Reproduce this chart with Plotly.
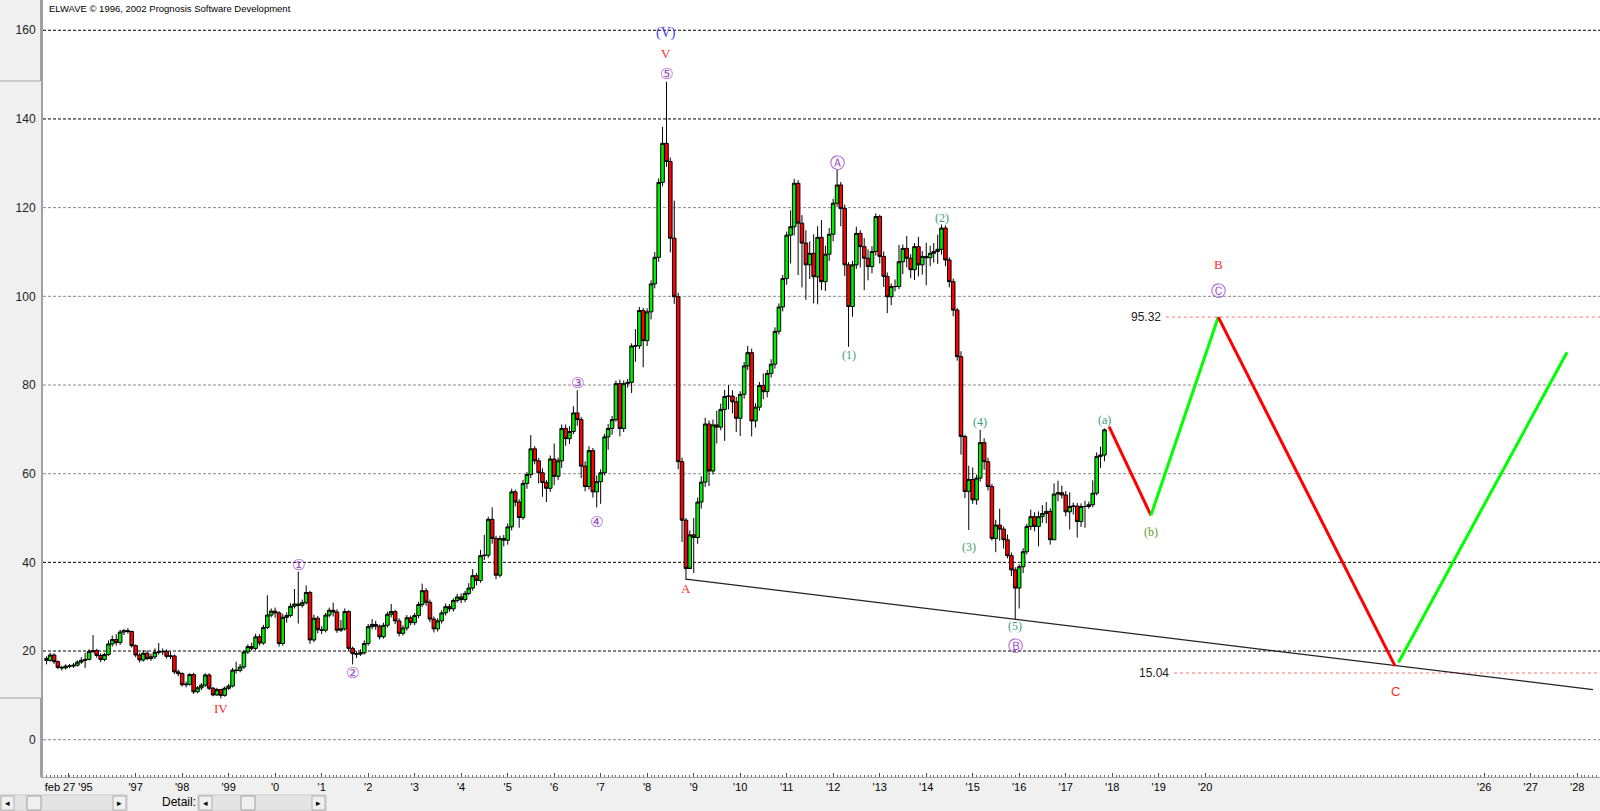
import numpy as np
import pandas as pd
import plotly.graph_objects as go

# ---------------- data (monthly candles, Feb 1995 - Nov 2017) ----------------
start_month = "1995-02-01"
first_open = 18.3

close_rows = [
    [17.9, 19.1, 17.6, 16.3, 16.2, 16.6, 16.6, 16.8, 17.5, 17.9, 18.1],
    [19.9, 20.1, 19.0, 18.1, 19.2, 21.6, 22.6, 21.9, 24.3, 24.6, 24.4, 21.2],
    [19.1, 18.0, 19.5, 18.3, 18.7, 19.7, 19.8, 19.9, 18.8, 18.9, 15.3, 14.9],
    [12.4, 12.5, 14.7, 10.8, 11.7, 12.3, 14.6, 11.6, 10.1, 11.3, 10.0, 11.6],
    [12.1, 15.7, 15.6, 16.4, 19.8, 21.0, 20.6, 23.2, 21.8, 25.3, 28.1, 29.0],
    [28.6, 21.7, 27.6, 28.0, 30.1, 30.6, 30.3, 30.9, 33.2, 22.5, 27.4, 24.8],
    [24.7, 28.1, 29.2, 28.8, 24.7, 25.0, 28.9, 20.6, 19.4, 19.3, 19.6, 21.7],
    [25.5, 26.0, 25.6, 23.2, 25.8, 28.3, 28.9, 26.8, 24.0, 25.2, 27.5, 26.4],
    [28.0, 30.5, 33.6, 31.0, 27.2, 25.0, 26.8, 28.6, 30.0, 29.5, 31.4, 32.2],
    [31.6, 33.0, 34.2, 37.0, 35.9, 41.5, 41.6, 49.7, 45.4, 37.1, 45.4, 45.0],
    [48.0, 55.9, 53.6, 50.1, 57.8, 59.8, 65.6, 62.9, 60.2, 58.0, 56.7, 63.3],
    [59.4, 62.9, 70.2, 67.9, 69.5, 73.7, 72.2, 61.7, 57.1, 65.2, 55.9, 58.2],
    [60.2, 68.3, 70.2, 72.2, 80.3, 70.2, 80.3, 80.6, 88.8, 88.8, 96.8, 90.0],
    [96.5, 102.8, 108.8, 125.7, 134.5, 130.4, 113.1, 99.9, 62.7, 49.5, 38.6, 46.2],
    [45.6, 53.6, 58.1, 71.2, 60.6, 71.0, 70.5, 74.5, 77.4, 77.5, 76.2, 72.5],
    [77.9, 84.3, 87.3, 71.9, 75.0, 79.9, 78.5, 82.6, 84.7, 92.1, 97.6, 104.0],
    [113.8, 115.7, 125.5, 116.5, 112.0, 107.1, 109.7, 104.4, 113.3, 103.3, 109.5, 114.0],
    [121.0, 125.1, 119.8, 107.1, 97.7, 107.1, 114.2, 111.2, 108.6, 106.7, 110.1, 118.0],
    [109.0, 104.5, 99.9, 102.2, 102.2, 107.8, 110.8, 108.6, 106.0, 111.2, 107.1, 109.0],
    [108.7, 109.7, 110.1, 110.6, 115.4, 108.2, 103.3, 96.9, 86.4, 68.4, 56.0, 58.7],
    [54.1, 59.0, 67.0, 62.7, 57.1, 45.4, 48.4, 47.5, 45.1, 41.5, 38.3, 34.2],
    [39.0, 42.4, 48.1, 50.3, 48.1, 50.3, 51.0, 51.5, 45.1, 55.4, 55.7, 55.2],
    [51.4, 52.6, 52.7, 49.2, 52.6, 52.6, 53.0, 55.6, 63.9, 64.2, 69.9],
]
high_rows = [
    [18.8, 19.6, 19.5, 17.9, 16.7, 17.0, 17.1, 17.3, 17.9, 18.6, 19.6],
    [20.4, 23.6, 20.5, 19.5, 19.6, 22.4, 23.5, 23.8, 24.8, 25.0, 25.2, 24.6],
    [21.5, 19.6, 20.2, 20.1, 19.4, 20.6, 21.8, 20.6, 20.4, 19.9, 19.2, 15.8],
    [15.2, 13.1, 15.0, 15.1, 12.1, 12.8, 15.0, 15.0, 11.9, 11.7, 11.5, 12.0],
    [12.6, 16.2, 17.6, 17.1, 20.2, 21.5, 21.9, 23.9, 23.8, 25.9, 32.6, 29.6],
    [29.8, 29.0, 28.4, 28.7, 30.8, 34.0, 37.9, 31.6, 34.8, 33.6, 28.2, 27.9],
    [25.6, 28.6, 29.8, 30.9, 29.4, 27.0, 29.6, 29.2, 21.0, 20.0, 20.4, 22.4],
    [26.1, 27.2, 26.8, 26.0, 26.4, 28.9, 30.6, 29.3, 27.4, 25.8, 28.1, 28.0],
    [28.6, 31.1, 35.2, 34.2, 31.6, 27.8, 27.4, 29.2, 30.7, 30.6, 31.9, 32.9],
    [33.0, 33.6, 35.3, 38.5, 37.6, 42.8, 46.2, 50.3, 52.4, 46.0, 46.0, 46.2],
    [48.8, 56.6, 56.4, 54.2, 58.6, 60.4, 68.7, 66.2, 63.5, 61.2, 58.6, 64.1],
    [66.8, 63.6, 71.1, 71.1, 70.7, 75.2, 78.8, 72.8, 62.8, 66.2, 65.8, 59.6],
    [61.0, 69.0, 71.2, 73.0, 81.0, 81.2, 81.0, 81.4, 89.4, 92.6, 97.6, 97.4],
    [97.3, 103.6, 110.0, 126.6, 138.2, 148.4, 131.3, 121.6, 100.8, 63.6, 50.0, 47.2],
    [50.0, 54.6, 59.4, 72.6, 72.0, 72.2, 74.2, 75.8, 78.9, 80.0, 78.8, 77.3],
    [78.6, 85.2, 88.8, 88.2, 75.9, 80.7, 82.6, 83.4, 85.8, 93.0, 98.4, 104.8],
    [114.6, 119.4, 126.5, 126.2, 118.3, 114.9, 112.4, 114.0, 115.8, 117.2, 111.4, 115.4],
    [122.0, 128.5, 125.8, 120.7, 107.7, 108.0, 115.7, 114.9, 113.1, 110.6, 111.3, 118.7],
    [118.4, 110.1, 105.4, 102.9, 103.8, 111.6, 111.7, 113.6, 109.5, 112.0, 113.4, 110.2],
    [112.1, 111.4, 112.0, 113.9, 116.2, 116.0, 108.8, 104.0, 97.4, 87.6, 68.8, 61.8],
    [61.4, 59.8, 69.9, 68.0, 63.6, 57.7, 49.6, 52.1, 48.1, 46.3, 42.2, 38.9],
    [39.6, 43.2, 48.7, 51.9, 51.3, 51.5, 52.9, 53.6, 52.2, 57.8, 58.4, 57.3],
    [56.1, 55.8, 53.5, 53.4, 53.3, 53.9, 53.7, 58.5, 64.8, 66.1, 70.2],
]
low_rows = [
    [17.0, 17.6, 17.1, 15.9, 15.6, 15.8, 16.1, 16.2, 16.5, 17.1, 16.2],
    [17.9, 19.5, 18.5, 17.5, 17.7, 18.9, 21.0, 21.2, 21.4, 23.6, 23.9, 20.8],
    [18.6, 17.4, 17.6, 17.9, 17.8, 18.2, 19.2, 19.1, 18.3, 18.2, 14.8, 14.3],
    [12.0, 11.8, 12.2, 10.3, 10.5, 11.2, 11.9, 11.2, 9.8, 9.9, 9.3, 9.7],
    [11.2, 11.8, 14.9, 15.2, 16.0, 19.3, 20.1, 20.2, 21.2, 21.4, 24.9, 27.6],
    [27.5, 21.0, 21.2, 26.4, 27.6, 29.6, 26.2, 29.8, 30.5, 21.6, 22.0, 24.0],
    [23.8, 24.2, 27.6, 27.8, 24.1, 24.3, 24.6, 20.1, 17.0, 18.4, 18.9, 19.2],
    [21.2, 24.9, 24.8, 22.6, 22.8, 25.3, 27.6, 26.1, 23.3, 23.5, 24.6, 25.8],
    [25.8, 27.4, 29.9, 30.2, 26.5, 24.2, 24.4, 26.2, 28.0, 28.8, 28.9, 30.9],
    [30.8, 31.0, 32.6, 33.6, 34.8, 35.4, 40.5, 41.0, 44.2, 36.2, 36.6, 43.6],
    [44.0, 47.2, 52.6, 47.8, 49.6, 56.6, 59.0, 62.1, 57.8, 54.8, 53.6, 55.9],
    [57.4, 58.6, 61.3, 66.3, 66.7, 68.9, 70.8, 59.0, 56.0, 56.4, 54.6, 52.4],
    [53.2, 59.6, 65.4, 68.8, 71.7, 68.4, 69.4, 79.4, 78.2, 85.2, 88.1, 84.0],
    [88.8, 94.8, 101.8, 107.8, 124.8, 129.2, 109.9, 98.3, 61.0, 44.6, 36.0, 39.0],
    [37.6, 44.2, 52.1, 57.0, 57.2, 59.8, 66.8, 69.8, 67.4, 74.5, 73.6, 69.4],
    [68.5, 76.9, 83.4, 68.4, 70.4, 74.2, 76.8, 77.2, 81.7, 83.7, 91.4, 96.6],
    [102.6, 107.4, 113.7, 104.8, 102.0, 99.2, 103.9, 98.4, 98.2, 101.4, 101.2, 108.0],
    [112.4, 120.2, 115.8, 104.6, 88.6, 95.4, 106.2, 106.5, 101.4, 103.6, 105.2, 109.2],
    [107.4, 102.1, 96.2, 98.0, 101.1, 101.6, 105.0, 106.5, 104.1, 103.7, 104.5, 104.9],
    [102.5, 106.8, 107.6, 107.3, 109.4, 106.8, 102.0, 95.5, 85.5, 64.3, 54.5, 47.3],
    [53.2, 53.0, 58.2, 60.9, 56.2, 44.9, 42.3, 44.9, 43.1, 40.9, 36.9, 27.0],
    [29.6, 37.6, 41.8, 47.3, 47.0, 43.6, 48.9, 48.8, 44.0, 45.0, 53.8, 54.4],
    [50.4, 47.4, 50.8, 45.6, 48.0, 47.8, 52.1, 52.4, 55.1, 61.3, 62.8],
]

# projected waves (month index counted from Feb 1995, value)
forecast_months = [274.2, 285.0, 302.4, 348.0]
forecast_values = [70.6, 50.6, 95.32, 16.6]
rebound_months = [348.9, 392.4]
rebound_values = [17.4, 87.4]
# lower trend line
trend_months = [165.0, 399.1]
trend_values = [36.2, 11.3]
# target levels
level_values = [95.32, 15.04]
level_start_months = [288.9, 291.0]
level_labels = ["95.32", "15.04"]

tick_dates = ["1995-07-25", "1997-01-01", "1998-01-01", "1999-01-01", "2000-01-01",
              "2001-01-01", "2002-01-01", "2003-01-01", "2004-01-01", "2005-01-01",
              "2006-01-01", "2007-01-01", "2008-01-01", "2009-01-01", "2010-01-01",
              "2011-01-01", "2012-01-01", "2013-01-01", "2014-01-01", "2015-01-01",
              "2016-01-01", "2017-01-01", "2018-01-01", "2019-01-01", "2020-01-01",
              "2026-01-01", "2027-01-01", "2028-01-01"]
tick_text = ["feb 27 '95", "'97", "'98", "'99", "'0", "'1", "'2", "'3", "'4", "'5", "'6",
             "'7", "'8", "'9", "'10", "'11", "'12", "'13", "'14", "'15", "'16", "'17",
             "'18", "'19", "'20", "'26", "'27", "'28"]
y_ticks = [0, 20, 40, 60, 80, 100, 120, 140, 160]

# ---------------- build ----------------
closes = [v for row in close_rows for v in row]
highs = [v for row in high_rows for v in row]
lows = [v for row in low_rows for v in row]
opens = [first_open] + closes[:-1]
dates = pd.date_range(start_month, periods=len(closes), freq="MS")


def mdate(m):
    base = pd.Timestamp(start_month)
    whole = int(np.floor(m))
    frac = m - whole
    d0 = base + pd.DateOffset(months=whole)
    d1 = base + pd.DateOffset(months=whole + 1)
    return d0 + (d1 - d0) * frac


X0, X1 = mdate(-0.903), mdate(400.9)
Y0, Y1 = -8.41, 166.83

fig = go.Figure()
fig.add_trace(go.Candlestick(
    x=dates, open=opens, high=highs, low=lows, close=closes,
    increasing=dict(fillcolor="#00EE00", line=dict(color="#000000", width=1)),
    decreasing=dict(fillcolor="#FF0000", line=dict(color="#000000", width=1)),
    whiskerwidth=0, hoverinfo="skip", name="price"))

# trend line
fig.add_trace(go.Scatter(x=[mdate(m) for m in trend_months], y=trend_values, mode="lines",
                         line=dict(color="#222222", width=1.2), hoverinfo="skip"))
# projected path
seg_colors = ["#FF0000", "#00FF00", "#FF0000"]
for k in range(3):
    fig.add_trace(go.Scatter(x=[mdate(forecast_months[k]), mdate(forecast_months[k + 1])],
                             y=[forecast_values[k], forecast_values[k + 1]], mode="lines",
                             line=dict(color=seg_colors[k], width=3), hoverinfo="skip"))
fig.add_trace(go.Scatter(x=[mdate(m) for m in rebound_months], y=rebound_values, mode="lines",
                         line=dict(color="#00FF00", width=3), hoverinfo="skip"))

shapes = []
grid_dark = {20, 40, 140, 160}
for v in y_ticks:
    shapes.append(dict(type="line", xref="paper", x0=0, x1=1, yref="y", y0=v, y1=v,
                       line=dict(color="#000000" if v in grid_dark else "#8A8A8A", width=1,
                                 dash="3px,2px"), layer="below"))
for v, m in zip(level_values, level_start_months):
    shapes.append(dict(type="line", xref="x", x0=mdate(m), x1=X1, yref="y", y0=v, y1=v,
                       line=dict(color="#FF7070", width=1, dash="3px,3px"), layer="below"))

# ---- window chrome (pixel helpers) ----
W, H = 1600, 811
L, T, B = 43, 0, 34
PW, PH = W - L, H - T - B


def px(x):
    return (x - L) / PW


def py(y):
    return (H - B - y) / PH


def rect(x0, y0, x1, y1, fill, line="#A0A0A0", lw=1, layer="below"):
    shapes.append(dict(type="rect", xref="paper", yref="paper", x0=px(x0), x1=px(x1),
                       y0=py(y1), y1=py(y0), fillcolor=fill, line=dict(color=line, width=lw),
                       layer=layer))


rect(-2, -2, 40.5, 81, "#F0F0F0")
shapes.append(dict(type="line", xref="paper", yref="paper", x0=px(0), x1=px(40.5), y0=py(698), y1=py(698),
                   line=dict(color="#A0A0A0", width=1), layer="below"))
shapes.append(dict(type="line", xref="paper", yref="paper", x0=px(40.5), x1=px(40.5), y0=py(698), y1=py(777),
                   line=dict(color="#A0A0A0", width=1), layer="below"))
# scroll bars
rect(0, 795, 127, 811, "#E4E4E4", "#C8C8C8")
rect(1, 796, 14, 810, "#F0F0F0", "#B0B0B0")
rect(27, 796, 41, 810, "#F0F0F0", "#A0A0A0")
rect(113, 796, 126, 810, "#F0F0F0", "#B0B0B0")
rect(198, 795, 326, 811, "#E4E4E4", "#C8C8C8")
rect(199, 796, 212, 810, "#F0F0F0", "#B0B0B0")
rect(241, 796, 255, 810, "#F0F0F0", "#A0A0A0")
rect(312, 796, 325, 810, "#F0F0F0", "#B0B0B0")

annotations = []


def chrome_text(x, y, text, size, anchor="center", bold=False, family="Liberation Sans, Arial, sans-serif"):
    annotations.append(dict(xref="paper", yref="paper", x=px(x), y=py(y), text=("<b>%s</b>" % text) if bold else text,
                            showarrow=False, xanchor=anchor, yanchor="middle",
                            font=dict(family=family, size=size, color="#000000")))


chrome_text(7.5, 803, "◂", 9, family="DejaVu Sans")
chrome_text(119.5, 803, "▸", 9, family="DejaVu Sans")
chrome_text(205.5, 803, "◂", 9, family="DejaVu Sans")
chrome_text(318.5, 803, "▸", 9, family="DejaVu Sans")
chrome_text(179, 802, "Detail:", 12)

annotations.append(dict(xref="paper", yref="paper", x=px(47), y=py(9), text="ELWAVE © 1996, 2002 Prognosis Software Development",
                        showarrow=False, xanchor="left", yanchor="middle",
                        font=dict(family="Liberation Sans, Arial, sans-serif", size=9.5, color="#000000")))

for v, m, lab in zip(level_values, level_start_months, level_labels):
    annotations.append(dict(x=mdate(m), y=v, xref="x", yref="y", text=lab, showarrow=False,
                            xanchor="right", yanchor="middle", xshift=-3,
                            font=dict(family="Liberation Sans, Arial, sans-serif", size=12, color="#222222")))

PURPLE = "#A04CC8"
RED = "#FF2A2A"
BLUE = "#3E3EFF"
TEAL = "#3A9E72"
OLIVE = "#5E9A2C"
SERIF = "Liberation Serif, Times New Roman, serif"
CIRC = "DejaVu Sans, sans-serif"
CS = 15

wave_labels = [
    ("①", "high", 65, 7, PURPLE, CIRC, CS),
    ("②", "low", 79, -9, PURPLE, CIRC, CS),
    ("③", "high", 137, 7, PURPLE, CIRC, CS),
    ("④", "low", 142, -15, PURPLE, CIRC, CS),
    ("⑤", "high", 160, 8, PURPLE, CIRC, CS),
    ("V", "high", 160, 28, RED, SERIF, 13),
    ("(V)", "high", 160, 49, BLUE, SERIF, 14),
    ("IV", "low", 45, -10, RED, SERIF, 13),
    ("A", "low", 165, -8, RED, SERIF, 13),
    ("Ⓐ", "high", 204, 7, PURPLE, CIRC, CS),
    ("(1)", "low", 207, -8, TEAL, SERIF, 12),
    ("(2)", "high", 231, 6, TEAL, SERIF, 12),
    ("(3)", "low", 238, -17, TEAL, SERIF, 12),
    ("(4)", "high", 241, 8, TEAL, SERIF, 12),
    ("(5)", "low", 250, -6, TEAL, SERIF, 12),
    ("Ⓑ", "low", 250, -26, PURPLE, CIRC, CS),
    ("(a)", "high", 273, 8, TEAL, SERIF, 12),
]
for text, kind, i, ys, col, fam, size in wave_labels:
    yv = highs[i] if kind == "high" else lows[i]
    annotations.append(dict(x=dates[i], y=yv, xref="x", yref="y", text=text, showarrow=False,
                            xanchor="center", yanchor="middle", yshift=ys,
                            font=dict(family=fam, size=size, color=col)))

forecast_labels = [
    ("(b)", 1, -17, OLIVE, SERIF, 12),
    ("Ⓒ", 2, 26, PURPLE, CIRC, CS),
    ("B", 2, 53, RED, SERIF, 13),
    ("C", 3, -25, RED, "Liberation Sans, Arial, sans-serif", 13),
]
for text, k, ys, col, fam, size in forecast_labels:
    annotations.append(dict(x=mdate(forecast_months[k]), y=forecast_values[k], xref="x", yref="y",
                            text=text, showarrow=False, xanchor="center", yanchor="middle", yshift=ys,
                            font=dict(family=fam, size=size, color=col)))

fig.update_layout(
    width=W, height=H, margin=dict(l=L, r=0, t=T, b=B, pad=0),
    paper_bgcolor="#F0F0F0", plot_bgcolor="#FFFFFF", showlegend=False,
    boxgap=0.0, boxgroupgap=0,
    shapes=shapes, annotations=annotations,
    xaxis=dict(type="date", range=[X0, X1], showgrid=False, zeroline=False,
               tickvals=tick_dates, ticktext=tick_text, tickangle=0,
               tickfont=dict(family="Liberation Sans, Arial, sans-serif", size=11, color="#000000"),
               ticks="inside", ticklen=4, tickcolor="#505050",
               minor=dict(ticks="inside", dtick="M1", tick0="1995-01-01", ticklen=2, tickcolor="#707070"),
               showline=True, linecolor="#A0A0A0", linewidth=1,
               rangeslider=dict(visible=False), fixedrange=True),
    yaxis=dict(range=[Y0, Y1], tickvals=y_ticks, showgrid=False, zeroline=False,
               tickfont=dict(family="Liberation Sans, Arial, sans-serif", size=12, color="#222222"),
               ticks="", ticklabelstandoff=3, showline=True, linecolor="#A0A0A0", linewidth=2,
               fixedrange=True),
)

fig.write_html("out.html", config={"displayModeBar": False},
               post_script="document.body.style.margin='0px';document.body.style.overflow='hidden';")
